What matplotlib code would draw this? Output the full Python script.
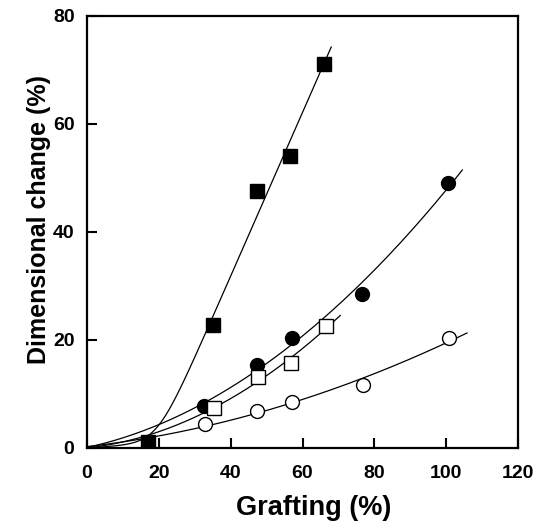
import numpy as np
import matplotlib
matplotlib.use("Agg")
import matplotlib.pyplot as plt

plt.rcParams['font.family'] = ['Liberation Sans', 'DejaVu Sans']

# data
fsq_x = [17.0, 35.1, 47.2, 56.5, 66.0]
fsq_y = [1.1, 22.8, 47.6, 54.1, 71.1]
fci_x = [32.6, 47.4, 57.1, 76.7, 100.6]
fci_y = [7.8, 15.4, 20.3, 28.6, 49.0]
osq_x = [35.4, 47.7, 56.9, 66.6]
osq_y = [7.4, 13.1, 15.7, 22.6]
oci_x = [32.9, 47.3, 57.1, 76.9, 100.9]
oci_y = [4.4, 6.9, 8.5, 11.7, 20.3]

xticks = [0, 20, 40, 60, 80, 100, 120]
yticks = [0, 20, 40, 60, 80]

fig = plt.figure(figsize=(5.43, 5.25), dpi=100)
ax = fig.add_axes([87/543, 1-448/525, (518-87)/543, (448-16)/525])

def trend(xs, ys, deg, xend):
    x = np.r_[0.0, xs]
    y = np.r_[0.0, ys]
    c = np.polyfit(x, y, deg)
    xx = np.linspace(0, xend, 200)
    return xx, np.polyval(c, xx)

def softplus_trend(xs, ys, xend):
    # least-squares fit of y = b*x + m*s*ln(1+exp((x-x0)/s)) by grid search
    x = np.r_[0.0, xs]
    y = np.r_[0.0, ys]
    best = None
    for b in np.linspace(0.04, 0.1, 4):
        for m in np.linspace(1.2, 2.0, 33):
            for x0 in np.linspace(16, 26, 41):
                for s in np.linspace(3.0, 5.0, 9):
                    f = b * x + m * s * np.logaddexp(0, (x - x0) / s)
                    e = np.sum((f - y) ** 2)
                    if best is None or e < best[0]:
                        best = (e, b, m, x0, s)
    _, b, m, x0, s = best
    xx = np.linspace(0, xend, 300)
    yy = b * xx + m * s * np.logaddexp(0, (xx - x0) / s)
    return xx, yy

lw = 0.9
xx, yy = softplus_trend(fsq_x, fsq_y, 68)
ax.plot(xx, yy, color='black', lw=lw)
xx, yy = trend(fci_x, fci_y, 2, 104.5)
ax.plot(xx, yy, color='black', lw=lw)
xx, yy = trend(osq_x, osq_y, 2, 70.5)
ax.plot(xx, yy, color='black', lw=lw)
xx, yy = trend(oci_x, oci_y, 2, 105.8)
ax.plot(xx, yy, color='black', lw=lw)

ax.plot(fsq_x, fsq_y, 's', ms=10.5, mfc='black', mec='black', zorder=3)
ax.plot(fci_x, fci_y, 'o', ms=10, mfc='black', mec='black', zorder=3)
ax.plot(osq_x, osq_y, 's', ms=10, mfc='white', mec='black', mew=1.0, zorder=3)
ax.plot(oci_x, oci_y, 'o', ms=10, mfc='white', mec='black', mew=1.0, zorder=3)

ax.set_xlim(0, 120)
ax.set_ylim(0, 80)
ax.set_xticks(xticks)
ax.set_yticks(yticks)
ax.tick_params(direction='in', length=7, width=1.5, labelsize=14)
ax.tick_params(axis='x', pad=12)
ax.tick_params(axis='y', pad=9)
for lab in ax.get_xticklabels() + ax.get_yticklabels():
    lab.set_fontweight('bold')
for s in ax.spines.values():
    s.set_linewidth(1.6)

ax.set_xlabel('Grafting (%)', fontsize=19.5, fontweight='bold')
ax.set_ylabel('Dimensional change (%)', fontsize=18, fontweight='bold')
ax.xaxis.set_label_coords(0.527, -0.108)
ax.yaxis.set_label_coords(-0.083, 0.528)

fig.savefig('out.png', dpi=100)
